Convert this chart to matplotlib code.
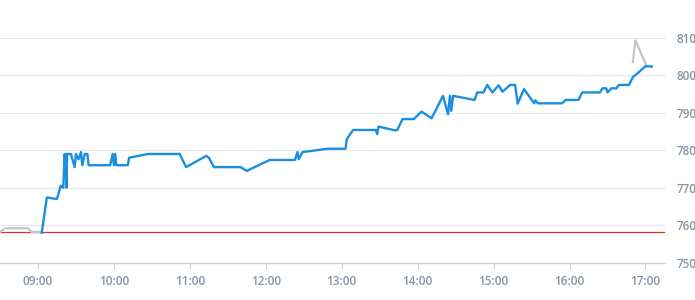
import matplotlib
matplotlib.use("Agg")
import matplotlib.pyplot as plt

# intraday price, session
times = ["09:03", "09:07", "09:15", "09:18", "09:20", "09:21:00", "09:21:40", "09:22:00",
         "09:22:30", "09:23", "09:26", "09:29", "09:30", "09:32", "09:34", "09:35",
         "09:37", "09:39", "09:40", "09:57", "09:59", "10:00", "10:01", "10:02",
         "10:11", "10:12", "10:27", "10:52", "10:57", "11:13", "11:15", "11:19",
         "11:40", "11:45", "12:03", "12:23", "12:25", "12:26", "12:29", "12:49",
         "13:03", "13:04", "13:09", "13:27", "13:28", "13:29", "13:42", "13:44",
         "13:48", "13:57", "14:03", "14:11", "14:20", "14:24", "14:25:30", "14:26:30",
         "14:28", "14:45", "14:47", "14:52", "14:55", "14:59", "15:04", "15:07",
         "15:13", "15:17", "15:19", "15:24", "15:32", "15:33", "15:35", "15:54",
         "15:57", "16:07", "16:10", "16:24", "16:26", "16:29", "16:30", "16:33",
         "16:37", "16:39", "16:47", "16:50", "16:53", "17:00", "17:05"]
prices = [758, 767.4, 767, 770.5, 770, 779, 773, 779,
          770, 779, 779, 775.5, 779, 777.6, 779.5, 776,
          779, 779, 776, 776, 779, 776, 779, 776,
          776, 778, 779, 779, 775.5, 778.5, 778, 775.5,
          775.5, 774.5, 777.4, 777.4, 779.5, 777.6, 779.5, 780.4,
          780.4, 783, 785.4, 785.4, 784.3, 786.3, 785.3, 785.4,
          788.3, 788.3, 790.3, 788.5, 794.5, 789.6, 794.5, 790.5,
          794.5, 793.4, 795.4, 795.4, 797.4, 795.4, 797.3, 795.6,
          797.4, 797.4, 792.4, 796.3, 792.5, 793.3, 792.5, 792.5,
          793.4, 793.4, 795.4, 795.4, 796.5, 796.5, 795.4, 796.5,
          796.5, 797.4, 797.4, 799.5, 800.3, 802.4, 802.3]

# pre-market and after-hours
pre_times = ["08:30", "08:34", "08:52", "08:55", "09:03"]
pre_prices = [758.2, 759.2, 759.2, 758.2, 758.2]
post_times = ["16:50", "16:52", "17:01"]
post_prices = [803.5, 809.3, 802.4]

prev_close = 758.1
hour_ticks = [9, 10, 11, 12, 13, 14, 15, 16, 17]
y_ticks = [750, 760, 770, 780, 790, 800, 810]


def to_hours(s):
    parts = [int(p) for p in s.split(":")]
    while len(parts) < 3:
        parts.append(0)
    return parts[0] + parts[1] / 60 + parts[2] / 3600


plt.rcParams['font.family'] = ['Open Sans', 'DejaVu Sans']

fig = plt.figure(figsize=(6.95, 3.0), dpi=100)
ax = fig.add_axes([0.0, 0.124, 0.957, 0.813])

ax.plot([to_hours(t) for t in pre_times], pre_prices, color="#bfc6cd", lw=1.6, zorder=3)
ax.plot([to_hours(t) for t in post_times], post_prices, color="#bfc6cd", lw=1.6, zorder=3)
ax.plot([to_hours(t) for t in times], prices, color="#1a8fe0", lw=1.7, zorder=4,
        solid_joinstyle="round")
ax.axhline(prev_close, color="#d9302c", lw=0.9, zorder=2)

ax.set_xlim(8.5, 17 + 15.5 / 60)
ax.set_ylim(750, 815)

ax.set_xticks(hour_ticks)
ax.set_xticklabels(["%02d:00" % h for h in hour_ticks])
ax.set_yticks(y_ticks)
ax.yaxis.tick_right()
ax.grid(axis="y", color="#e3e6ea", lw=0.8)
ax.set_axisbelow(True)

for side in ["top", "left", "right"]:
    ax.spines[side].set_visible(False)
ax.spines["bottom"].set_color("#c8ced6")
ax.spines["bottom"].set_linewidth(0.9)

ax.tick_params(axis="x", colors="#c8ced6", length=4, width=0.8, labelcolor="#8794a1",
               labelsize=8.5, pad=5)
ax.tick_params(axis="y", length=0, labelcolor="#8794a1", labelsize=8.5, pad=8)
for lbl in ax.get_xticklabels() + ax.get_yticklabels():
    lbl.set_fontweight("semibold")

fig.savefig("out.png", dpi=100)
